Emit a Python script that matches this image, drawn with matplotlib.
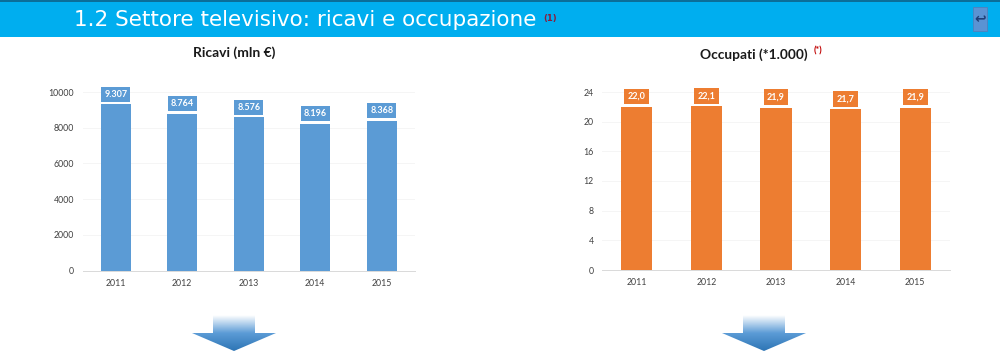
"""Settore televisivo: ricavi e occupati, due pannelli a barre."""

import numpy as np
import matplotlib
matplotlib.use('Agg')
import matplotlib.pyplot as plt
from matplotlib.patches import Rectangle, Polygon

W, H = 1000, 354

years = ['2011', '2012', '2013', '2014', '2015']
ricavi = [9307, 8764, 8576, 8196, 8368]
ricavi_labels = ['9.307', '8.764', '8.576', '8.196', '8.368']
ricavi_ticks = [0, 2000, 4000, 6000, 8000, 10000]
occupati = [22.0, 22.1, 21.9, 21.7, 21.9]
occupati_labels = ['22,0', '22,1', '21,9', '21,7', '21,9']
occupati_ticks = [0, 4, 8, 12, 16, 20, 24]

BLUE = '#5B9BD5'
ORANGE = '#ED7D31'
BAND = '#00AEEF'
FONT = 'Lato'


def px_axes(fig, x0, x1, y_top, y_bot):
    """Axes placed by pixel edges (y measured from the top)."""
    return fig.add_axes([x0 / W, 1 - y_bot / H, (x1 - x0) / W, (y_bot - y_top) / H])


def plot_panel(fig, box, values, labels, ticks, color, box_pad):
    ax = px_axes(fig, *box)
    ax.bar(range(len(values)), values, width=0.45, color=color, zorder=2)
    ax.set_xlim(-0.5, len(values) - 0.5)
    ax.set_ylim(0, ticks[-1])
    ax.set_xticks(range(len(values)))
    ax.set_xticklabels(years)
    ax.set_yticks(ticks)
    ax.grid(axis='y', color='#F5F5F5', linewidth=0.7, zorder=0)
    ax.set_axisbelow(True)
    for side in ['top', 'right', 'left']:
        ax.spines[side].set_visible(False)
    ax.spines['bottom'].set_color('#D9D9D9')
    ax.spines['bottom'].set_linewidth(0.7)
    ax.tick_params(length=0, labelsize=6.3, labelcolor='#404040', pad=6)
    for label in ax.get_xticklabels() + ax.get_yticklabels():
        label.set_family(FONT)
    for i, (v, text) in enumerate(zip(values, labels)):
        ax.annotate(text, (i, v), xytext=(0, 7.4), textcoords='offset points',
                    ha='center', va='center', fontsize=6.5, color='white',
                    fontweight='bold', family=FONT, zorder=4,
                    bbox=dict(boxstyle=f'square,pad={box_pad}', fc=color, ec='none'))
    return ax


def draw_arrow(over, cx):
    """Block arrow pointing down with a white-to-blue fade."""
    top, neck, tip = 315, 333, 351
    pts = [(cx - 21, top), (cx + 21, top), (cx + 21, neck), (cx + 42, neck),
           (cx, tip), (cx - 42, neck), (cx - 21, neck)]
    pos = np.linspace(0, 1, 64)
    stops = [0, 0.5, 1]
    rgb = np.stack([np.interp(pos, stops, [1.0, 0.36, 0.18]),
                    np.interp(pos, stops, [1.0, 0.61, 0.46]),
                    np.interp(pos, stops, [1.0, 0.84, 0.71])], axis=-1)[:, None, :]
    im = over.imshow(rgb, extent=(cx - 42, cx + 42, tip, top), aspect='auto', zorder=3)
    clip = Polygon(pts, closed=True, transform=over.transData, fc='none', ec='none')
    over.add_patch(clip)
    im.set_clip_path(clip)


fig = plt.figure(figsize=(W / 100, H / 100), dpi=100, facecolor='white')

plot_panel(fig, (82.5, 415, 92, 270.5), ricavi, ricavi_labels, ricavi_ticks, BLUE, 0.33)
plot_panel(fig, (602, 950, 92, 270), occupati, occupati_labels, occupati_ticks, ORANGE, 0.38)

# Page furniture, in pixel coordinates
over = fig.add_axes([0, 0, 1, 1], zorder=5)
over.patch.set_alpha(0)
over.axis('off')
over.add_patch(Rectangle((0, 0), W, 37, fc=BAND, ec='none'))
over.add_patch(Rectangle((0, 0), W, 1.5, fc='#0B6E99', ec='none'))
over.text(74, 20.5, '1.2 Settore televisivo: ricavi e occupazione', color='white',
          fontsize=15.45, va='center', ha='left', family='DejaVu Sans')
over.text(543, 19, '(1)', color='#8B1A3A', fontsize=6, fontweight='bold',
          va='center', ha='left', family='DejaVu Sans')
over.add_patch(Rectangle((973, 7), 14, 24, fc='#5B93D3', ec='#4F81BD', lw=0.6))
over.text(980, 19.5, '\u21a9', color='#1F3F77', fontsize=10, fontweight='bold',
          ha='center', va='center', family='DejaVu Sans')

over.text(234, 52.5, 'Ricavi (mln \u20ac)', fontsize=10, fontweight='bold', color='#1a1a1a',
          ha='center', va='center', family=FONT)
over.text(754, 54.5, 'Occupati (*1.000)', fontsize=9.9, fontweight='bold', color='#1a1a1a',
          ha='center', va='center', family=FONT)
over.text(818, 51, '(*)', fontsize=6.5, fontweight='bold', color='#C00000',
          ha='center', va='center', family=FONT)

draw_arrow(over, 234)
draw_arrow(over, 764)

over.set_xlim(0, W)
over.set_ylim(H, 0)

fig.savefig('out.png', dpi=100)
plt.close(fig)
